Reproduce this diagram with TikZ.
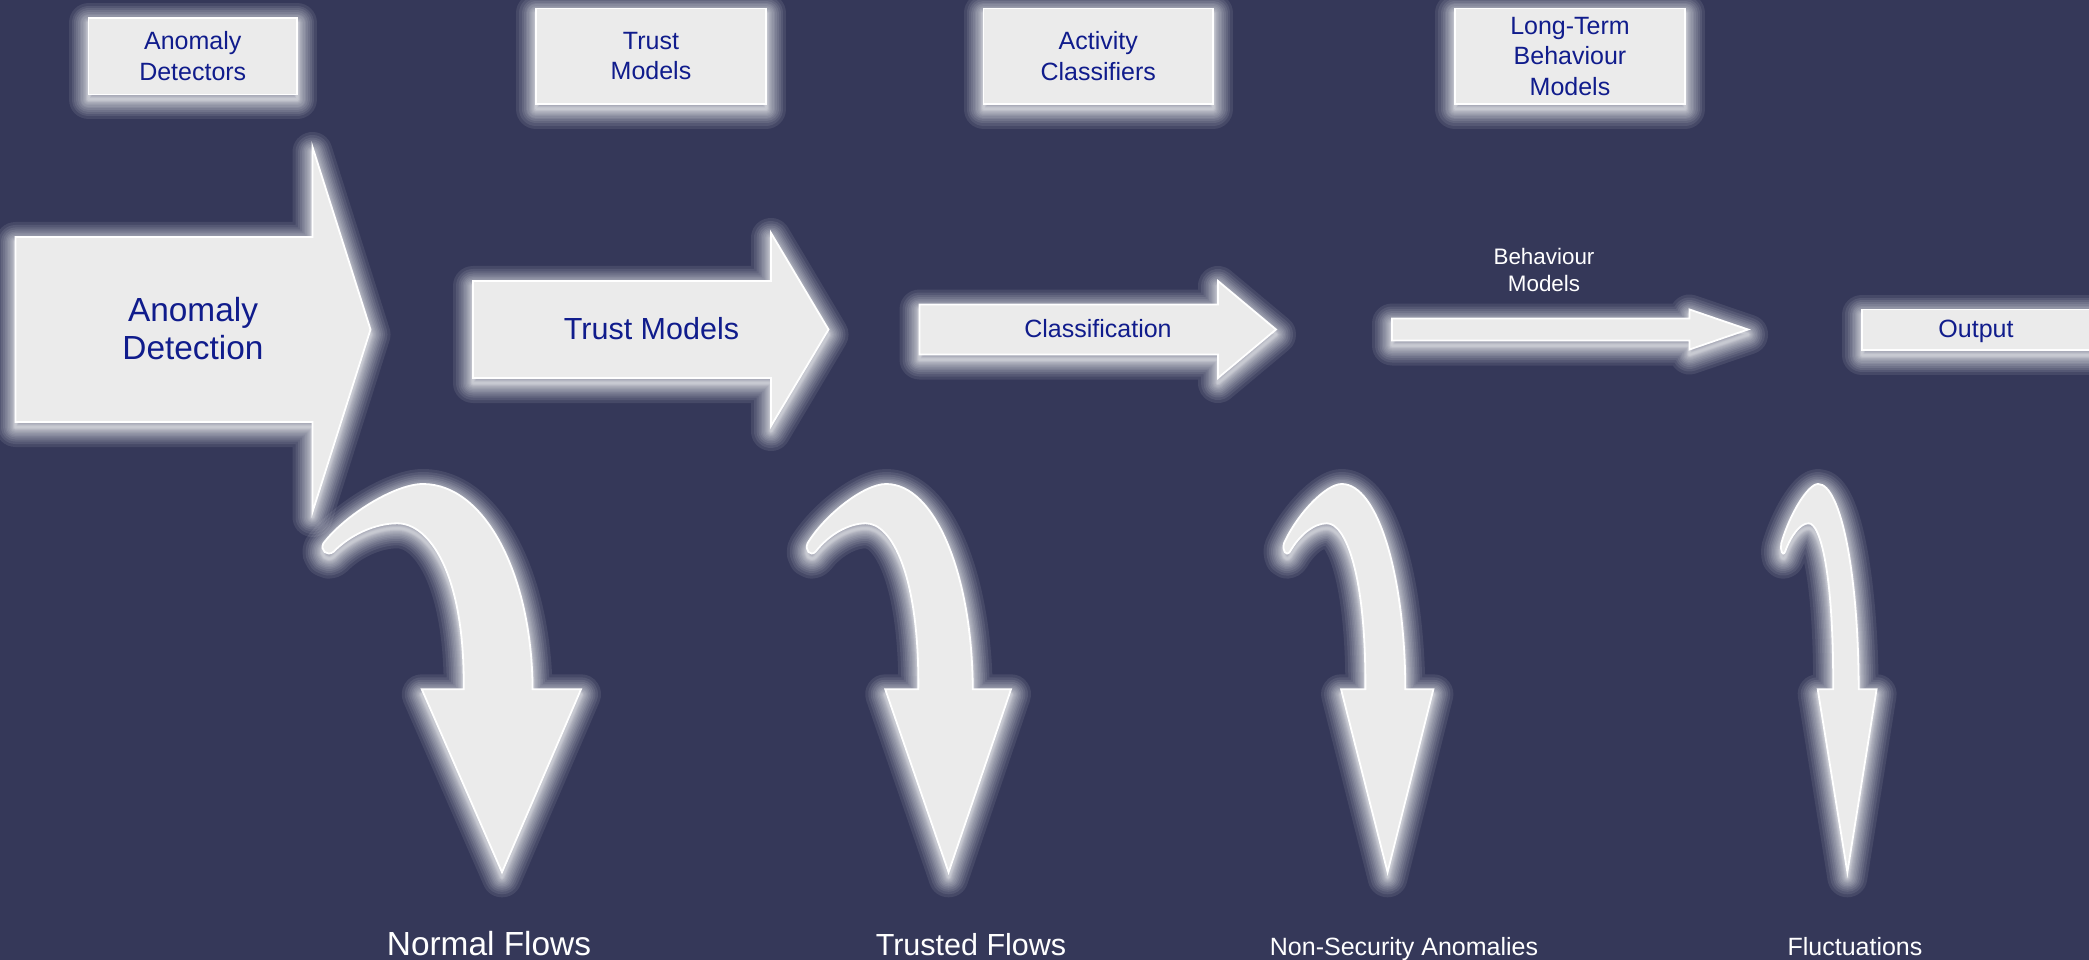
\documentclass[tikz,border=0pt]{standalone}
\usepackage{fontspec}
\setmainfont{Liberation Sans}
\definecolor{bgnavy}{RGB}{53,56,89}
\definecolor{shapegray}{RGB}{235,235,235}
\definecolor{inkblue}{RGB}{16,28,140}

% soft white halo under a shape, then the shape itself
\newcommand{\glowshape}[1]{%
  \begin{scope}[yshift=-5pt]
    \foreach \gw in {40,34,29,25,21,18,15,12,10,8,6,5,4,3,2} {
      \draw[white, draw opacity=0.085, line width=\gw pt, line join=round] #1;
    }
  \end{scope}
  \filldraw[fill=shapegray, draw=white, line width=1.8pt] #1;
}

% hooked downward arrow; #1 = x of the crest, #2 = horizontal scale
\newcommand{\hookarrow}[2]{%
  \begin{scope}[xshift=#1pt, xscale=#2]
    \glowshape{(109.7,689.3) .. controls (109.1,575) and (62.1,484) .. (0,484)
      .. controls (-27.9,484) and (-77.9,515) .. (-99.5,543.3)
      .. controls (-103,550) and (-96,557) .. (-89.3,551.7)
      .. controls (-72.9,535) and (-47.9,523.3) .. (-25.6,523.3)
      .. controls (7.1,523.3) and (42.1,575) .. (40.8,689.3)
      -- (-1.1,689.3) -- (79.1,872.3) -- (158.1,689.3) -- cycle}
  \end{scope}}

\begin{document}
\begin{tikzpicture}[x=1pt, y=-1pt,
  boxtext/.style={font=\fontsize{25}{30.5}\selectfont, text=inkblue, align=center, inner sep=0pt},
  bluetext/.style={text=inkblue, align=center, inner sep=0pt},
  whitetext/.style={text=white, align=center, inner sep=0pt}]

  \useasboundingbox (0,0) rectangle (2089,960);
  \fill[bgnavy] (0,0) rectangle (2089,960);

  % model boxes along the top
  \glowshape{(88.5,18) rectangle (297,94.5)}
  \glowshape{(536,8.5) rectangle (766,104)}
  \glowshape{(983.5,8.5) rectangle (1213,104)}
  \glowshape{(1455,8.5) rectangle (1685,104)}
  \node[boxtext] (detectors) at (192.75,56.25) {Anomaly\\Detectors};
  \node[boxtext] (trustmodels) at (651,56.25) {Trust\\Models};
  \node[boxtext] (classifiers) at (1098.25,56.25) {Activity\\Classifiers};
  \node[boxtext] (longterm) at (1570,56.25) {Long-Term\\Behaviour\\Models};

  % pipeline stages
  \glowshape{(15.5,237) -- (312.5,237) -- (312.5,147) -- (370.5,329.5)
    -- (312.5,512) -- (312.5,422) -- (15.5,422) -- cycle}
  \glowshape{(473,281) -- (771,281) -- (771,233) -- (828.5,329.5)
    -- (771,426) -- (771,378) -- (473,378) -- cycle}
  \glowshape{(919.5,304.5) -- (1218,304.5) -- (1218,281) -- (1276,329.5)
    -- (1218,378) -- (1218,354.5) -- (919.5,354.5) -- cycle}
  \glowshape{(1392,318.5) -- (1689.5,318.5) -- (1689.5,309.5) -- (1748,329.5)
    -- (1689.5,349.5) -- (1689.5,340.5) -- (1392,340.5) -- cycle}
  \glowshape{(1862,309.5) rectangle (2110,350)}

  \node[bluetext, font=\fontsize{33.4}{38}\selectfont] (detection) at (193,329) {Anomaly\\Detection};
  \node[bluetext, font=\fontsize{30.5}{36}\selectfont] (trust) at (651.5,328.5) {Trust Models};
  \node[bluetext, font=\fontsize{25}{30}\selectfont] (classification) at (1098,329) {Classification};
  \node[whitetext, font=\fontsize{22.4}{27}\selectfont] (behaviour) at (1544,270) {Behaviour\\Models};
  \node[bluetext, anchor=base, font=\fontsize{25}{30}\selectfont] (output) at (1976,337.5) {Output};

  % outflows
  \hookarrow{422.9}{1}
  \hookarrow{886.1}{0.79}
  \hookarrow{1341.7}{0.58}
  \hookarrow{1818.1}{0.37}

  \node[whitetext, anchor=base, font=\fontsize{33.4}{38}\selectfont] (normal) at (489,955) {Normal Flows};
  \node[whitetext, anchor=base, font=\fontsize{30.5}{36}\selectfont] (trusted) at (971,955) {Trusted Flows};
  \node[whitetext, anchor=base, font=\fontsize{25}{30}\selectfont] (nonsec) at (1404,955) {Non-Security Anomalies};
  \node[whitetext, anchor=base, font=\fontsize{25}{30}\selectfont] (fluct) at (1855,955) {Fluctuations};
\end{tikzpicture}
\end{document}
